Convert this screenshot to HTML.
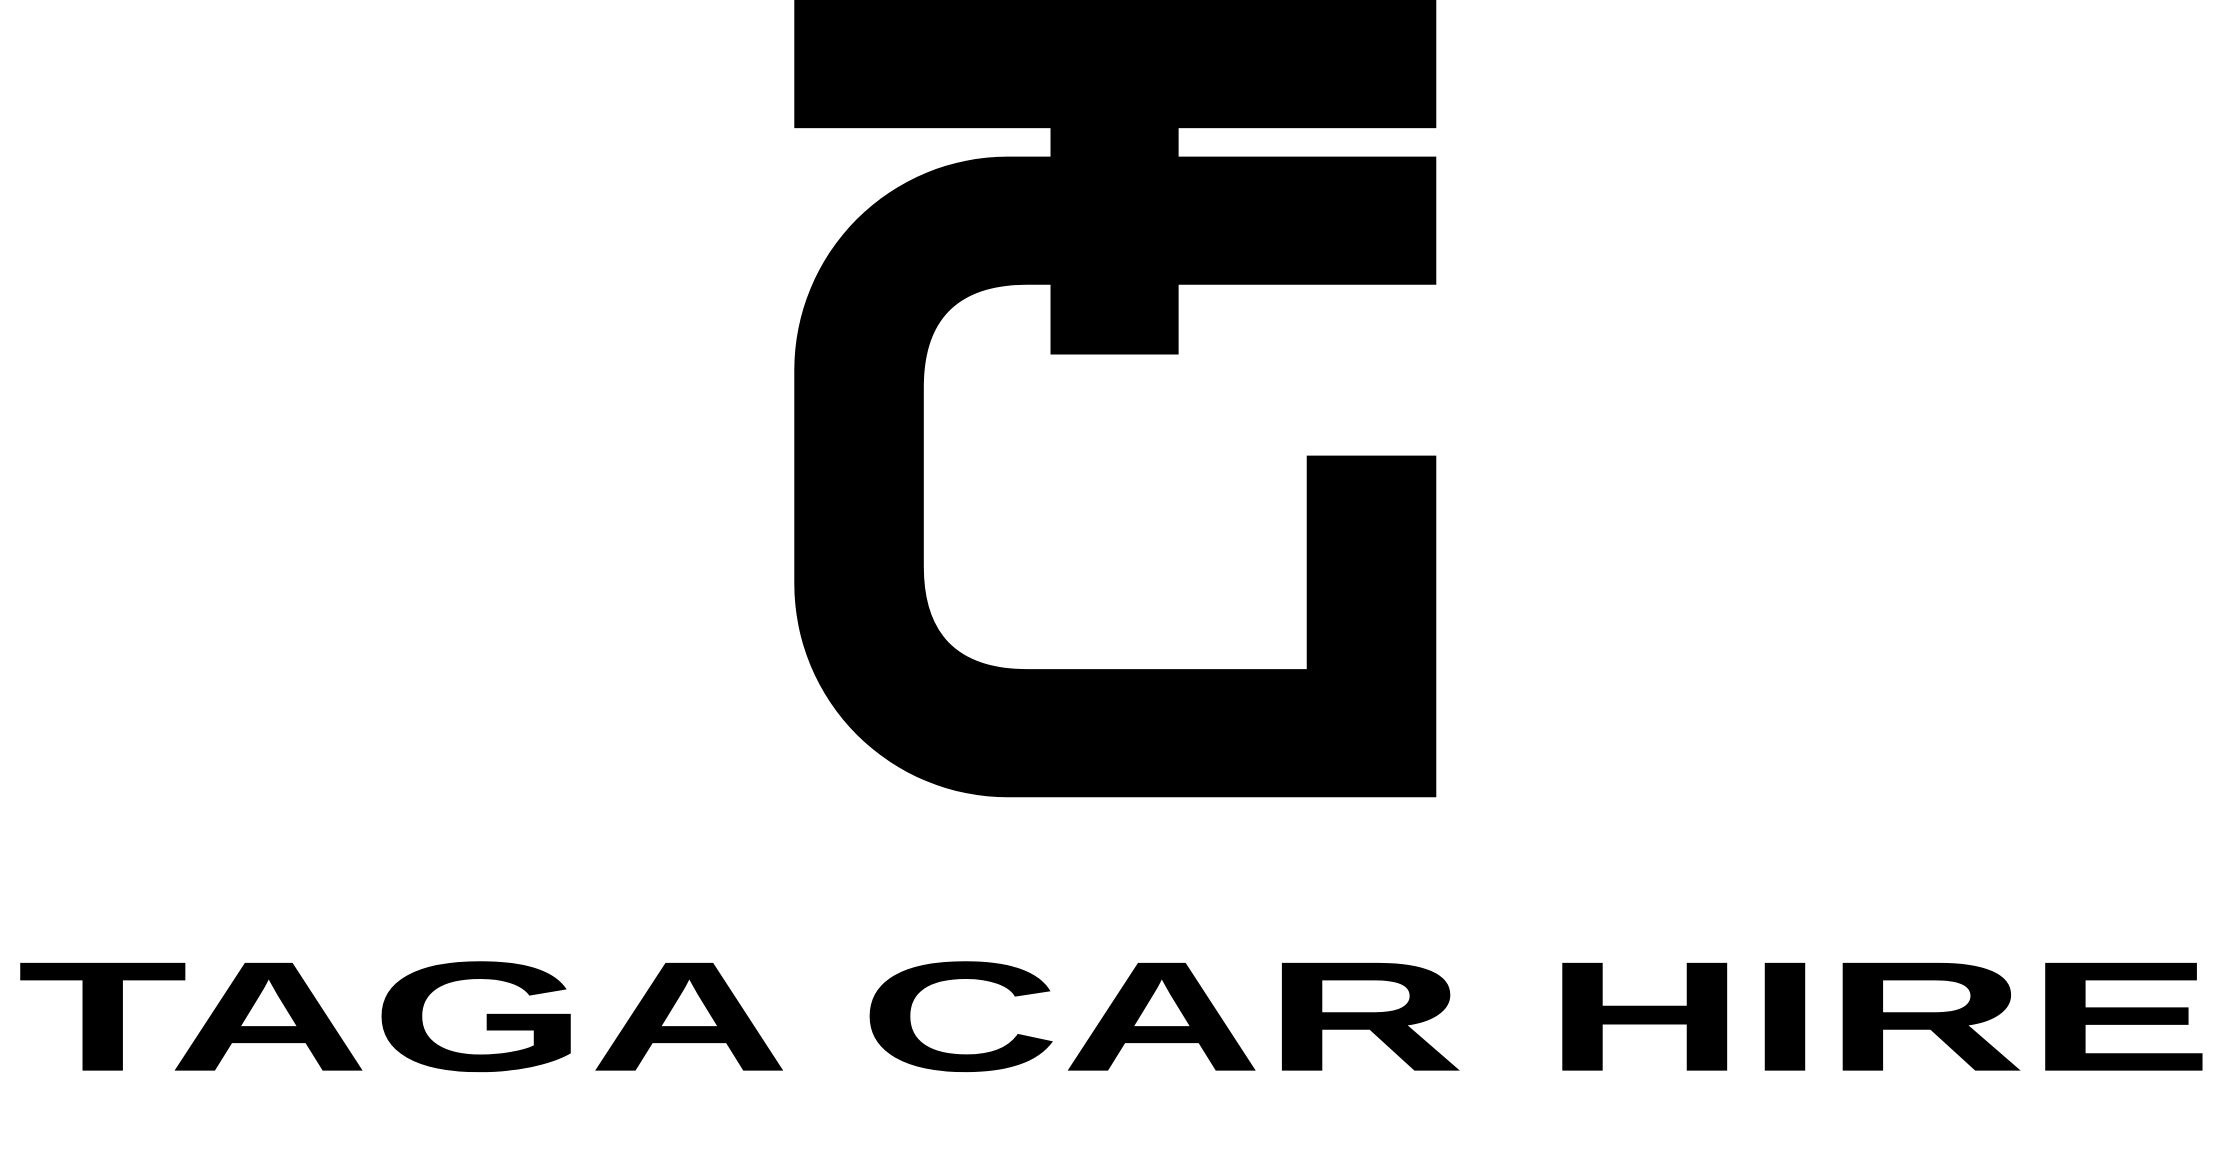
<!DOCTYPE html>
<html><head><meta charset="utf-8"><title>Taga Car Hire</title>
<style>html,body{margin:0;padding:0;background:#fff;}svg{display:block;}</style>
</head><body>
<svg width="2232" height="1176" viewBox="0 0 1568 826" preserveAspectRatio="none" xmlns="http://www.w3.org/2000/svg">
  <rect width="1568" height="826" fill="#fff"/>
  <g fill="#000">
    <rect x="558" y="0" width="451" height="90"/>
    <rect x="738" y="88" width="90" height="161"/>
    <path d="M1009,110 H708 A150,150 0 0 0 558,260 V410 A150,150 0 0 0 708,560 H1009 V320 H918 V470 H722 Q649,470 649,398 V272 Q649,200 722,200 H1009 Z"/>
  </g>
  <text x="12" y="752" textLength="1543" lengthAdjust="spacingAndGlyphs" font-family="'Liberation Sans', sans-serif" font-weight="700" font-size="110" fill="#000">TAGA CAR HIRE</text>
</svg>
</body></html>
